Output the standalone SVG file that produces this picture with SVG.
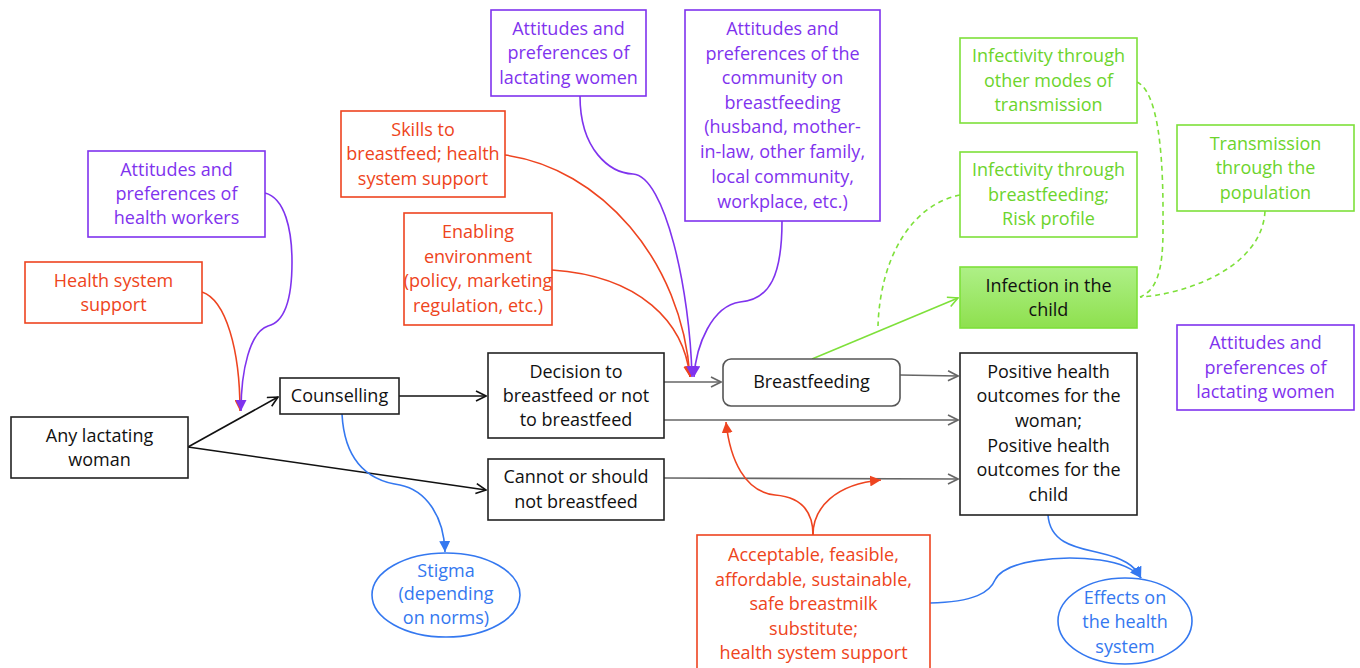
<svg xmlns="http://www.w3.org/2000/svg" width="1360" height="668" viewBox="0 0 1360 668">
<style>
text{font-family:"Open Sans",Lato,"Liberation Sans",sans-serif;font-size:18px;text-anchor:middle}
.k{fill:#111}.p{fill:#7f33ee}.r{fill:#ee4420}.g{fill:#6cd42c}.b{fill:#3478f0}
.bk{fill:#fff;stroke:#222;stroke-width:1.6}
.bp{fill:#fff;stroke:#7f33ee;stroke-width:1.6}
.br{fill:#fff;stroke:#ee4420;stroke-width:1.6}
.bg{fill:#fff;stroke:#7ee03a;stroke-width:1.6}
.bb{fill:#fff;stroke:#3478f0;stroke-width:1.6}
.c{fill:none;stroke-width:1.6}
.ck{stroke:#111}.cg{stroke:#666}.cp{stroke:#7f33ee}.cr{stroke:#ee4420}.cb{stroke:#3478f0}.cgr{stroke:#7ee03a}
.d{stroke-dasharray:5 4}
</style>
<defs>
<linearGradient id="gf" x1="0" y1="0" x2="0" y2="1"><stop offset="0" stop-color="#aef087"/><stop offset="1" stop-color="#8ee04e"/></linearGradient>
<marker id="ak" viewBox="0 0 12 12" refX="11" refY="6" markerWidth="12" markerHeight="12" markerUnits="userSpaceOnUse" orient="auto"><path d="M1,1 L11,6 L1,11" fill="none" stroke="#111" stroke-width="1.6"/></marker>
<marker id="ag" viewBox="0 0 12 12" refX="11" refY="6" markerWidth="12" markerHeight="12" markerUnits="userSpaceOnUse" orient="auto"><path d="M1,1 L11,6 L1,11" fill="none" stroke="#666" stroke-width="1.6"/></marker>
<marker id="agr" viewBox="0 0 12 12" refX="11" refY="6" markerWidth="12" markerHeight="12" markerUnits="userSpaceOnUse" orient="auto"><path d="M1,1 L11,6 L1,11" fill="none" stroke="#7ee03a" stroke-width="1.6"/></marker>
<marker id="fp" viewBox="0 0 10 10" refX="10" refY="5" markerWidth="11" markerHeight="11" markerUnits="userSpaceOnUse" orient="auto"><path d="M0,0 L10,5 L0,10 z" fill="#7f33ee"/></marker>
<marker id="fr" viewBox="0 0 10 10" refX="10" refY="5" markerWidth="11" markerHeight="11" markerUnits="userSpaceOnUse" orient="auto"><path d="M0,0 L10,5 L0,10 z" fill="#ee4420"/></marker>
<marker id="fb" viewBox="0 0 10 10" refX="10" refY="5" markerWidth="11" markerHeight="11" markerUnits="userSpaceOnUse" orient="auto"><path d="M0,0 L10,5 L0,10 z" fill="#3478f0"/></marker>
</defs>

<g id="connectors">
<path class="c ck" d="M188,447 L278,397" marker-end="url(#ak)"/>
<path class="c ck" d="M188,447 L486,490" marker-end="url(#ak)"/>
<path class="c ck" d="M399,396 L486,396" marker-end="url(#ak)"/>
<path class="c cg" d="M664,382 L721,382" marker-end="url(#ag)"/>
<path class="c cg" d="M900,375 L958,376" marker-end="url(#ag)"/>
<path class="c cg" d="M664,420 L958,420" marker-end="url(#ag)"/>
<path class="c cg" d="M664,478 L958,479" marker-end="url(#ag)"/>
<path class="c cgr" d="M812,359 L958,298" marker-end="url(#agr)"/>
<path class="c cr" d="M202,292 C226,300 240,350 240,411" marker-end="url(#fr)"/>
<path class="c cp" d="M265,193 C285,198 292,230 292,262 C292,300 285,322 268,326 C250,332 241,370 241,411" marker-end="url(#fp)"/>
<path class="c cr" d="M505,155 C600,168 682,260 690,377" marker-end="url(#fr)"/>
<path class="c cr" d="M552,270 C640,276 684,322 690,377" marker-end="url(#fr)"/>
<path class="c cp" d="M580,96 C580,150 610,173 633,174 C665,176 690,290 692,377" marker-end="url(#fp)"/>
<path class="c cp" d="M782,221 C782,275 770,300 740,302 C712,306 696,345 694,377" marker-end="url(#fp)"/>
<path class="c cr" d="M813,535 C813,510 800,497 775,495 C745,492 730,460 726,422" marker-end="url(#fr)"/>
<path class="c cr" d="M813,535 C813,508 835,484 881,480" marker-end="url(#fr)"/>
<path class="c cb" d="M342,414 C345,470 378,482 400,485 C425,490 444,515 445,552" marker-end="url(#fb)"/>
<path class="c cb" d="M1048,515 C1050,545 1080,548 1100,553 C1122,558 1135,565 1141,578" marker-end="url(#fb)"/>
<path class="c cb" d="M930,603 C975,602 990,592 995,580 C1005,560 1060,555 1100,560 C1122,563 1135,570 1141,578" marker-end="url(#fb)"/>
<path class="c cgr d" d="M960,195 C910,205 880,260 878,326"/>
<path class="c cgr d" d="M1137,82 C1165,95 1163,200 1163,230 C1163,270 1157,290 1140,297"/>
<path class="c cgr d" d="M1265,211 C1262,270 1180,295 1140,297"/>
</g>

<g id="n-health-workers"><rect class="bp" x="88" y="151" width="177" height="86"/>
<text class="p"><tspan x="176.5" y="176">Attitudes and</tspan><tspan x="176.5" y="200">preferences of</tspan><tspan x="176.5" y="224">health workers</tspan></text></g>

<g id="n-health-system"><rect class="br" x="25" y="262" width="177" height="61"/>
<text class="r"><tspan x="113.5" y="287">Health system</tspan><tspan x="113.5" y="311">support</tspan></text></g>

<g id="n-any-woman"><rect class="bk" x="11" y="417" width="177" height="61"/>
<text class="k"><tspan x="99.5" y="442">Any lactating</tspan><tspan x="99.5" y="466">woman</tspan></text></g>

<g id="n-counselling"><rect class="bk" x="280" y="378" width="119" height="36"/>
<text class="k" x="339.5" y="402">Counselling</text></g>

<g id="n-skills"><rect class="br" x="341" y="111" width="164" height="86"/>
<text class="r"><tspan x="423" y="136">Skills to</tspan><tspan x="423" y="160">breastfeed; health</tspan><tspan x="423" y="185">system support</tspan></text></g>

<g id="n-att-lactating"><rect class="bp" x="491" y="10" width="155" height="86"/>
<text class="p"><tspan x="568.5" y="35">Attitudes and</tspan><tspan x="568.5" y="59">preferences of</tspan><tspan x="568.5" y="84">lactating women</tspan></text></g>

<g id="n-community"><rect class="bp" x="685" y="10" width="195" height="211"/>
<text class="p"><tspan x="782.5" y="35">Attitudes and</tspan><tspan x="782.5" y="59.5">preferences of the</tspan><tspan x="782.5" y="84">community on</tspan><tspan x="782.5" y="108.5">breastfeeding</tspan><tspan x="782.5" y="133">(husband, mother-</tspan><tspan x="782.5" y="158">in-law, other family,</tspan><tspan x="782.5" y="183">local community,</tspan><tspan x="782.5" y="208">workplace, etc.)</tspan></text></g>

<g id="n-enabling"><rect class="br" x="404" y="213" width="148" height="112"/>
<text class="r"><tspan x="478" y="238">Enabling</tspan><tspan x="478" y="263">environment</tspan><tspan x="478" y="287">(policy, marketing</tspan><tspan x="478" y="312">regulation, etc.)</tspan></text></g>

<g id="n-decision"><rect class="bk" x="488" y="353" width="176" height="85"/>
<text class="k"><tspan x="576" y="378">Decision to</tspan><tspan x="576" y="402">breastfeed or not</tspan><tspan x="576" y="426">to breastfeed</tspan></text></g>

<g id="n-cannot"><rect class="bk" x="488" y="459" width="176" height="61"/>
<text class="k"><tspan x="576" y="483">Cannot or should</tspan><tspan x="576" y="508">not breastfeed</tspan></text></g>

<g id="n-breastfeeding"><rect x="723" y="359" width="177" height="47" rx="8" fill="#fff" stroke="#555" stroke-width="1.6"/>
<text class="k" x="811.5" y="388">Breastfeeding</text></g>

<g id="n-positive"><rect class="bk" x="960" y="353" width="177" height="162"/>
<text class="k"><tspan x="1048.5" y="378">Positive health</tspan><tspan x="1048.5" y="402">outcomes for the</tspan><tspan x="1048.5" y="427">woman;</tspan><tspan x="1048.5" y="452">Positive health</tspan><tspan x="1048.5" y="476">outcomes for the</tspan><tspan x="1048.5" y="501">child</tspan></text></g>

<g id="n-infection"><rect x="960" y="267" width="177" height="61" fill="url(#gf)" stroke="#7ee03a" stroke-width="1.6"/>
<text class="k"><tspan x="1048.5" y="292">Infection in the</tspan><tspan x="1048.5" y="316">child</tspan></text></g>

<g id="n-inf-other"><rect class="bg" x="960" y="38" width="177" height="85"/>
<text class="g"><tspan x="1048.5" y="62">Infectivity through</tspan><tspan x="1048.5" y="87">other modes of</tspan><tspan x="1048.5" y="111">transmission</tspan></text></g>

<g id="n-inf-bf"><rect class="bg" x="960" y="152" width="177" height="85"/>
<text class="g"><tspan x="1048.5" y="176">Infectivity through</tspan><tspan x="1048.5" y="201">breastfeeding;</tspan><tspan x="1048.5" y="225">Risk profile</tspan></text></g>

<g id="n-transmission"><rect class="bg" x="1177" y="125" width="177" height="86"/>
<text class="g"><tspan x="1265.5" y="150">Transmission</tspan><tspan x="1265.5" y="174">through the</tspan><tspan x="1265.5" y="199">population</tspan></text></g>

<g id="n-att-right"><rect class="bp" x="1177" y="325" width="177" height="85"/>
<text class="p"><tspan x="1265.5" y="349">Attitudes and</tspan><tspan x="1265.5" y="374">preferences of</tspan><tspan x="1265.5" y="398">lactating women</tspan></text></g>

<g id="n-acceptable"><rect class="br" x="697" y="535" width="233" height="140"/>
<text class="r"><tspan x="813.5" y="561">Acceptable, feasible,</tspan><tspan x="813.5" y="586">affordable, sustainable,</tspan><tspan x="813.5" y="610">safe breastmilk</tspan><tspan x="813.5" y="635">substitute;</tspan><tspan x="813.5" y="659">health system support</tspan></text></g>

<g id="n-stigma"><ellipse class="bb" cx="446" cy="595" rx="74" ry="42"/>
<text class="b"><tspan x="446" y="577">Stigma</tspan><tspan x="446" y="600">(depending</tspan><tspan x="446" y="624">on norms)</tspan></text></g>

<g id="n-effects"><ellipse class="bb" cx="1125" cy="621" rx="67" ry="43"/>
<text class="b"><tspan x="1125" y="604">Effects on</tspan><tspan x="1125" y="628">the health</tspan><tspan x="1125" y="653">system</tspan></text></g>
</svg>
